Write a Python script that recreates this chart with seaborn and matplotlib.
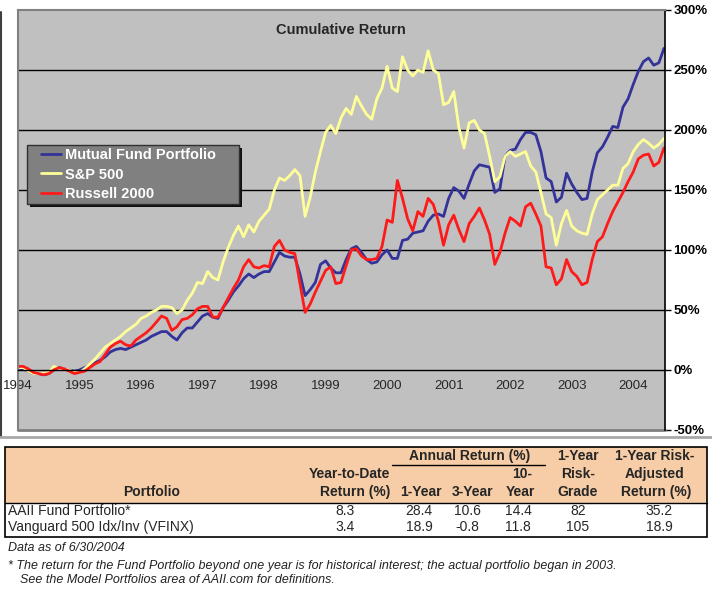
import numpy as np
import pandas as pd
import matplotlib
matplotlib.use('Agg')
import matplotlib.pyplot as plt
import seaborn as sns
from matplotlib.patches import Rectangle
from matplotlib.lines import Line2D

W, H = 712, 592

# monthly cumulative return (%), Dec 1993 .. Jun 2004
mutual_fund = [0, 1, -1, -3, -3, -4, -3, 0, 2, 1, 0, -1,
               0, 2, 4, 6, 8, 11, 15, 17, 18, 17, 19, 21,
               23, 25, 28, 30, 32, 32, 28, 25, 31, 35, 35, 40,
               45, 47, 44, 43, 52, 58, 65, 70, 76, 80, 77, 80,
               82, 82, 90, 98, 95, 94, 94, 80, 62, 67, 73, 88,
               91, 85, 81, 81, 92, 101, 103, 98, 92, 89, 90, 96,
               100, 93, 93, 108, 109, 114, 115, 116, 124, 129, 130, 128,
               143, 152, 149, 143, 155, 166, 171, 170, 169, 148, 151, 178,
               183, 184, 192, 198, 198, 196, 182, 160, 157, 140, 144, 164,
               155, 148, 142, 143, 165, 181, 186, 194, 203, 202, 219, 226,
               238, 249, 257, 260, 254, 256, 268]
sp500 = [2, 2, -1, -3, -3, -3, -2, 3, 1, 1, 0, -2,
         -2, 1, 5, 9, 14, 19, 22, 25, 28, 32, 35, 38,
         43, 45, 48, 50, 53, 53, 52, 47, 50, 58, 64, 73,
         72, 82, 77, 75, 90, 102, 112, 120, 111, 121, 115, 124,
         129, 134, 150, 160, 158, 162, 167, 162, 128, 144, 165, 182,
         198, 204, 197, 210, 218, 213, 228, 220, 213, 209, 226, 235,
         253, 235, 232, 261, 250, 245, 250, 248, 266, 250, 247, 221,
         223, 232, 202, 185, 206, 208, 200, 197, 178, 157, 161, 178,
         182, 178, 180, 182, 170, 165, 148, 130, 127, 104, 122, 133,
         120, 116, 114, 113, 130, 142, 146, 150, 154, 154, 168, 172,
         182, 188, 192, 189, 185, 188, 193]
russell = [3, 3, 1, -2, -3, -4, -3, 0, 2, 1, -1, -3,
           -2, -1, 2, 5, 7, 13, 19, 22, 24, 21, 20, 25,
           28, 31, 35, 40, 45, 43, 33, 36, 42, 43, 46, 51,
           53, 53, 44, 44, 52, 60, 68, 75, 86, 92, 86, 85,
           87, 86, 103, 108, 100, 98, 97, 72, 48, 55, 65, 74,
           83, 86, 72, 73, 87, 100, 101, 95, 92, 92, 93, 103,
           125, 123, 158, 143, 126, 116, 132, 128, 143, 138, 124, 104,
           121, 129, 117, 107, 122, 128, 135, 125, 113, 88, 98, 114,
           127, 124, 120, 136, 139, 130, 120, 86, 85, 71, 76, 92,
           82, 78, 71, 73, 92, 107, 111, 122, 132, 140, 148, 157,
           165, 176, 179, 180, 170, 173, 185]

series_names = ['Mutual Fund Portfolio', 'S&P 500', 'Russell 2000']
series_colors = ['#333399', '#FFFF99', '#FF1A1A']
year_labels = ['1994', '1995', '1996', '1997', '1998', '1999',
               '2000', '2001', '2002', '2003', '2004']
y_ticks = [-50, 0, 50, 100, 150, 200, 250, 300]

# table
portfolios = ['AAII Fund Portfolio*', 'Vanguard 500 Idx/Inv (VFINX)']
ytd = ['8.3', '3.4']
ret_1yr = ['28.4', '18.9']
ret_3yr = ['10.6', '-0.8']
ret_10yr = ['14.4', '11.8']
risk_grade = ['82', '105']
risk_adj = ['35.2', '18.9']

n = len(mutual_fund)
month = np.arange(n)
df = pd.DataFrame({
    'month': np.tile(month, 3),
    'ret': mutual_fund + sp500 + russell,
    'series': np.repeat(series_names, n),
})

sns.set_style('white')
plt.rcParams['font.family'] = ['Liberation Sans', 'DejaVu Sans']


def fx(x):
    return x / W


def fy(y):
    return 1 - y / H


fig = plt.figure(figsize=(W / 100, H / 100), dpi=100)
ax = fig.add_axes([fx(18), fy(430), (665 - 18) / W, 420 / H])
ax.set_facecolor('#C0C0C0')

for v in [50, 100, 150, 200, 250]:
    ax.axhline(v, color='black', lw=1, zorder=1)

sns.lineplot(data=df, x='month', y='ret', hue='series', hue_order=series_names,
             palette=series_colors, linewidth=2, ax=ax)

ax.set_xlim(0, 126.2)
ax.set_ylim(-50, 300)
ax.set_xlabel('')
ax.set_ylabel('')

ax.yaxis.tick_right()
ax.set_xticks(np.arange(0, 121, 12))
ax.set_xticklabels(year_labels)
ax.set_yticks(y_ticks)
ax.set_yticklabels([f'{v}%' for v in y_ticks])
ax.tick_params(axis='x', direction='out', length=5, width=1, color='black', pad=2,
               labelsize=9.5)
ax.tick_params(axis='y', direction='out', length=4, width=1, color='black', pad=2,
               labelsize=9.5)
for lbl in ax.get_xticklabels() + ax.get_yticklabels():
    lbl.set_fontweight('bold')
    lbl.set_color('black')

ax.spines['bottom'].set_position(('data', 0))
ax.spines['bottom'].set_color('black')
ax.spines['bottom'].set_linewidth(1)
ax.spines['right'].set_color('black')
ax.spines['right'].set_linewidth(1.2)
for s in ['top', 'left']:
    ax.spines[s].set_color('#808080')
    ax.spines[s].set_linewidth(1.5)
ax.axhline(-50, color='#808080', lw=2, clip_on=False)

# chart border
fig.add_artist(Line2D([fx(1), fx(1)], [fy(12), fy(437)], color='#404040', lw=1.5))
fig.add_artist(Line2D([0, 1], [fy(437), fy(437)], color='#A8A8A8', lw=2))

fig.text(fx(341), fy(30), 'Cumulative Return', ha='center', va='center',
         fontsize=10.5, fontweight='bold')

# legend box with shadow (inside the axes so the legend is drawn on top)
ax.add_artist(Rectangle((fx(30), fy(207)), 212 / W, 59 / H, transform=fig.transFigure,
                        facecolor='#101010', edgecolor='none', zorder=4, clip_on=False))
ax.add_artist(Rectangle((fx(27), fy(204)), 212 / W, 59 / H, transform=fig.transFigure,
                        facecolor='#808080', edgecolor='#303030', lw=1, zorder=4.5,
                        clip_on=False))
handles, labels = ax.get_legend_handles_labels()
leg = ax.legend(handles, labels, loc='upper left', bbox_to_anchor=(fx(41), fy(148)),
                bbox_transform=fig.transFigure, frameon=False, fontsize=10.5,
                handlelength=1.35, handletextpad=0.3, labelspacing=0.38,
                borderpad=0, borderaxespad=0)
leg.set_zorder(10)
for t in leg.get_texts():
    t.set_color('white')
    t.set_fontweight('bold')
for h in leg.get_lines():
    h.set_linewidth(2)

# table
fig.add_artist(Rectangle((fx(5), fy(503)), 702 / W, 56 / H, transform=fig.transFigure,
                         facecolor='#F6CDA6', edgecolor='none'))
fig.add_artist(Rectangle((fx(5), fy(537)), 702 / W, 90 / H, transform=fig.transFigure,
                         fill=False, edgecolor='black', lw=1.2))
fig.add_artist(Line2D([fx(5), fx(707)], [fy(503), fy(503)], color='black', lw=1))
fig.add_artist(Line2D([fx(392), fx(545)], [fy(465), fy(465)], color='black', lw=1))

hdr = dict(fontsize=10, fontweight='bold', va='center')
fig.text(fx(470), fy(456), 'Annual Return (%)', ha='center', **hdr)
fig.text(fx(578), fy(456), '1-Year', ha='center', **hdr)
fig.text(fx(655), fy(456), '1-Year Risk-', ha='center', **hdr)
fig.text(fx(390), fy(474), 'Year-to-Date', ha='right', **hdr)
fig.text(fx(532), fy(474), '10-', ha='right', **hdr)
fig.text(fx(578), fy(474), 'Risk-', ha='center', **hdr)
fig.text(fx(655), fy(474), 'Adjusted', ha='center', **hdr)
fig.text(fx(152), fy(492), 'Portfolio', ha='center', **hdr)
fig.text(fx(390), fy(492), 'Return (%)', ha='right', **hdr)
fig.text(fx(442), fy(492), '1-Year', ha='right', **hdr)
fig.text(fx(493), fy(492), '3-Year', ha='right', **hdr)
fig.text(fx(535), fy(492), 'Year', ha='right', **hdr)
fig.text(fx(578), fy(492), 'Grade', ha='center', **hdr)
fig.text(fx(656), fy(492), 'Return (%)', ha='center', **hdr)

row_y = [511, 527]
cell = dict(fontsize=10, va='center', ha='center')
for i, yy in enumerate(row_y):
    fig.text(fx(8), fy(yy), portfolios[i], fontsize=10, va='center', ha='left')
    fig.text(fx(345), fy(yy), ytd[i], **cell)
    fig.text(fx(419), fy(yy), ret_1yr[i], **cell)
    fig.text(fx(467), fy(yy), ret_3yr[i], **cell)
    fig.text(fx(518), fy(yy), ret_10yr[i], **cell)
    fig.text(fx(578), fy(yy), risk_grade[i], **cell)
    fig.text(fx(659), fy(yy), risk_adj[i], **cell)

note = dict(fontsize=9, style='italic', color='#222222', va='center', ha='left')
fig.text(fx(8), fy(548), 'Data as of 6/30/2004', **note)
fig.text(fx(8), fy(566), '* The return for the Fund Portfolio beyond one year is for historical '
         'interest; the actual portfolio began in 2003.', **note)
fig.text(fx(20), fy(580), 'See the Model Portfolios area of AAII.com for definitions.', **note)

fig.savefig('out.png', dpi=100)
